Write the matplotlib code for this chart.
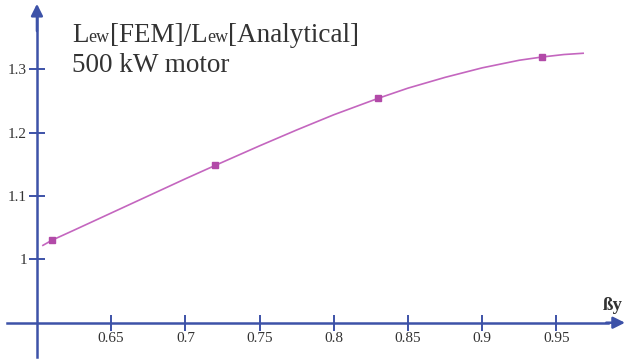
import matplotlib
matplotlib.use("Agg")
import matplotlib.pyplot as plt

# Data
marker_x = [0.61, 0.72, 0.83, 0.94]
marker_y = [1.03, 1.148, 1.254, 1.319]
curve_x = [0.604, 0.61, 0.625, 0.65, 0.675, 0.70, 0.72, 0.75, 0.775, 0.80,
           0.83, 0.85, 0.875, 0.90, 0.925, 0.94, 0.955, 0.968]
curve_y = [1.022, 1.03, 1.046, 1.073, 1.100, 1.127, 1.148, 1.179, 1.204, 1.228,
           1.254, 1.270, 1.287, 1.302, 1.314, 1.319, 1.323, 1.325]
x_ticks = [0.65, 0.7, 0.75, 0.8, 0.85, 0.9, 0.95]
x_ticklabels = ["0.65", "0.7", "0.75", "0.8", "0.85", "0.9", "0.95"]
y_ticks = [1.0, 1.1, 1.2, 1.3]
y_ticklabels = ["1", "1.1", "1.2", "1.3"]

AXIS = "#3d52a8"
LINE = "#c466bf"
MARK = "#b24aa8"
TXT = "#333333"
SERIF = ["Liberation Serif", "DejaVu Serif"]

fig = plt.figure(figsize=(6.25, 3.6), dpi=100)
ax = fig.add_axes([0, 0, 1, 1])
ax.set_xlim(0.5751, 0.9962)
ax.set_ylim(0.8412, 1.409)

for s in ["top", "right"]:
    ax.spines[s].set_visible(False)
ax.spines["left"].set_position(("data", 0.6))
ax.spines["bottom"].set_position(("data", 0.9))
ax.spines["left"].set_bounds(0.8459, 1.39)
ax.spines["bottom"].set_bounds(0.5798, 0.985)
for s in ["left", "bottom"]:
    ax.spines[s].set_color(AXIS)
    ax.spines[s].set_linewidth(1.8)

ax.set_xticks(x_ticks)
ax.set_xticklabels(x_ticklabels, fontfamily=SERIF, fontsize=11, color=TXT)
ax.set_yticks(y_ticks)
ax.set_yticklabels(y_ticklabels, fontfamily=SERIF, fontsize=11, color=TXT)
ax.tick_params(axis="both", direction="inout", length=11.5, width=1.4, color=AXIS)
ax.tick_params(axis="x", pad=1)
ax.tick_params(axis="y", pad=1.5)

# arrow heads
ax.annotate("", xy=(1.0, 0.9), xycoords=("axes fraction", "data"),
            xytext=(0.97, 0.9), textcoords=("axes fraction", "data"),
            arrowprops=dict(arrowstyle="-|>,head_length=0.7,head_width=0.35",
                            color=AXIS, lw=1.8, shrinkA=0, shrinkB=0))
ax.annotate("", xy=(0.6, 1.403), xycoords="data",
            xytext=(0.6, 1.36), textcoords="data",
            arrowprops=dict(arrowstyle="-|>,head_length=0.7,head_width=0.35",
                            color=AXIS, lw=1.8, shrinkA=0, shrinkB=0))

ax.plot(curve_x, curve_y, color=LINE, lw=1.2, zorder=3)
ax.plot(marker_x, marker_y, ls="none", marker="s", ms=5, color=MARK, zorder=4)

# x-axis label
ax.text(0.988, 0.914, "ßy", fontfamily=SERIF, fontsize=13.5,
        fontweight="bold", color=TXT, ha="center", va="bottom")

# title composed of pieces
fig.canvas.draw()
renderer = fig.canvas.get_renderer()
pieces = [("L", 19.5), ("ew", 13), ("[FEM]/L", 19.5), ("ew", 13), ("[Analytical]", 19.5)]
x0 = 72
base_y = 360 - 42
for txt, size in pieces:
    t = fig.text(x0 / 625, base_y / 360, txt, fontfamily=SERIF, fontsize=size,
                 color=TXT, ha="left", va="baseline")
    bb = t.get_window_extent(renderer)
    x0 = bb.x1
fig.text(72 / 625, (360 - 72) / 360, "500 kW motor", fontfamily=SERIF,
         fontsize=19.5, color=TXT, ha="left", va="baseline")

fig.savefig("out.png", dpi=100)
